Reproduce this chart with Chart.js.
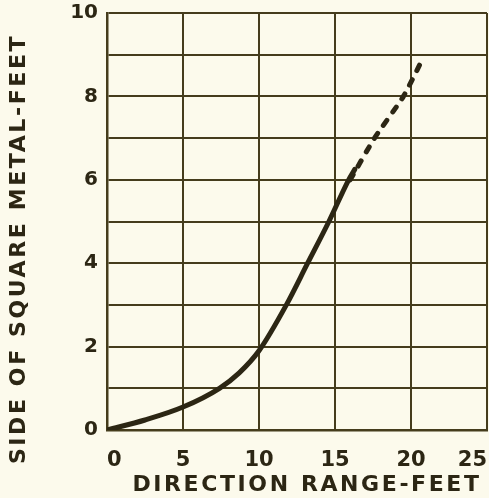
<!DOCTYPE html>
<html>
<head>
<meta charset="utf-8">
<script src="https://cdn.jsdelivr.net/npm/chart.js@4.4.1/dist/chart.umd.min.js"></script>
<style>
  html, body { margin: 0; padding: 0; background: #fcfaec; }
  #wrap { width: 489px; height: 498px; position: relative; }
</style>
</head>
<body>
<div id="wrap"><canvas id="myChart"></canvas></div>
<script>
// Đường liền (đo được)
const rangeSolid = [0, 2.5, 5, 7.4, 8.7, 10, 11.8, 13.2, 14.6, 15.9, 16.3];
const sideSolid  = [0, 0.24, 0.55, 1.0, 1.37, 1.9, 3.0, 4.0, 5.0, 6.0, 6.25];

// Đoạn nét đứt (ngoại suy)
const rangeDashed = [16.0, 17.6, 19.5, 20.7];
const sideDashed  = [6.0, 7.0, 8.0, 8.85];

const xTicks = [0, 5, 10, 15, 20, 25];
const yTicks = [0, 1, 2, 3, 4, 5, 6, 7, 8, 9, 10];
const yLabels = [0, 2, 4, 6, 8, 10];

const xTitle = 'DIRECTION RANGE-FEET';
const yTitle = 'SIDE OF SQUARE METAL-FEET';

const ink = '#2c2614';
const gridInk = '#453c1c';

function toPoints(xs, ys) {
    return xs.map((x, i) => ({ x: x, y: ys[i] }));
}

// Bỏ phần đệm tự động để khung vẽ nằm đúng chỗ
function noPadding(scale) {
    scale.paddingTop = 0;
    scale.paddingBottom = 0;
    scale.paddingLeft = 0;
    scale.paddingRight = 0;
}

// Vẽ tiêu đề trục với giãn chữ
const axisTitles = {
    id: 'axisTitles',
    afterDraw(chart) {
        const ctx = chart.ctx;
        ctx.save();
        ctx.fillStyle = ink;
        ctx.font = 'bold 22px "DejaVu Sans"';
        ctx.letterSpacing = '2.6px';
        ctx.textAlign = 'center';
        ctx.textBaseline = 'middle';
        ctx.fillText(xTitle, 307, 485);
        ctx.translate(19, 249);
        ctx.rotate(-Math.PI / 2);
        ctx.letterSpacing = '2.6px';
        ctx.fillText(yTitle, 0, 0);
        ctx.restore();
    }
};

const ctx = document.getElementById('myChart').getContext('2d');
new Chart(ctx, {
    type: 'line',
    data: {
        datasets: [{
            data: toPoints(rangeSolid, sideSolid),
            borderColor: ink,
            borderWidth: 5,
            cubicInterpolationMode: 'monotone',
            pointRadius: 0,
            borderCapStyle: 'round'
        }, {
            data: toPoints(rangeDashed, sideDashed),
            borderColor: ink,
            borderWidth: 5,
            borderDash: [6, 10],
            borderCapStyle: 'round',
            tension: 0.2,
            pointRadius: 0
        }]
    },
    options: {
        responsive: true,
        maintainAspectRatio: false,
        animation: false,
        layout: {
            padding: { left: 0, right: 2, top: 13, bottom: 0 }
        },
        plugins: {
            legend: { display: false },
            tooltip: { enabled: false }
        },
        scales: {
            x: {
                type: 'linear',
                min: 0,
                max: 25,
                afterBuildTicks: scale => { scale.ticks = xTicks.map(v => ({ value: v })); },
                afterFit: scale => { scale.height = 68; noPadding(scale); },
                grid: { color: gridInk, lineWidth: 2, drawTicks: false },
                border: { color: gridInk, width: 2.5 },
                ticks: {
                    color: ink,
                    align: 'inner',
                    padding: 18,
                    font: { family: 'DejaVu Sans', size: 21, weight: 'bold' }
                }
            },
            y: {
                type: 'linear',
                min: 0,
                max: 10,
                afterBuildTicks: scale => { scale.ticks = yTicks.map(v => ({ value: v })); },
                afterFit: scale => { scale.width = 107; noPadding(scale); },
                grid: { color: gridInk, lineWidth: 2, drawTicks: false },
                border: { color: gridInk, width: 2.5 },
                ticks: {
                    color: ink,
                    padding: 9,
                    font: { family: 'DejaVu Sans', size: 20, weight: 'bold' },
                    callback: v => yLabels.includes(v) ? String(v) : ''
                }
            }
        }
    },
    plugins: [axisTitles]
});
</script>
</body>
</html>
